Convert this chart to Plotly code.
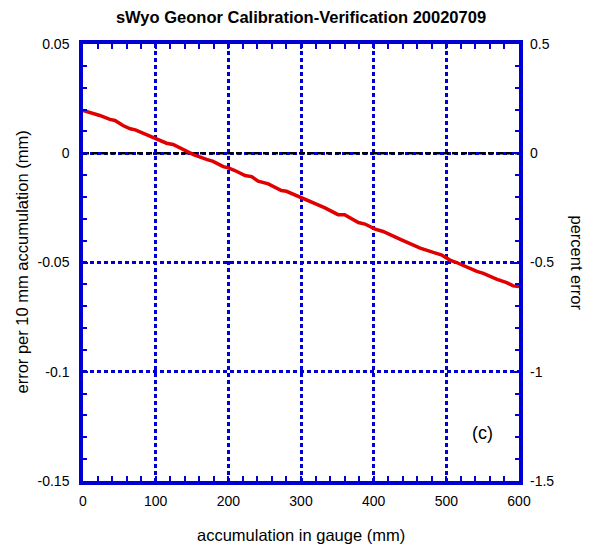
import plotly.graph_objects as go

# ---- data ----
accum_mm = [0, 14, 23, 37, 44, 55, 65, 72, 88, 99, 115, 124, 138, 152, 170, 179,
            193, 200, 209, 223, 232, 241, 255, 273, 280, 301, 315, 333, 351, 360,
            379, 388, 402, 413, 436, 450, 464, 482, 493, 505, 514, 542, 551, 569,
            583, 592, 600]
err_mm = [0.0196, 0.0183, 0.0173, 0.0155, 0.0150, 0.0127, 0.0112, 0.0107, 0.0084,
          0.0066, 0.0046, 0.0040, 0.0016, -0.0006, -0.0028, -0.0037, -0.0061,
          -0.0067, -0.0079, -0.0102, -0.0107, -0.0128, -0.0140, -0.0171, -0.0174,
          -0.0205, -0.0225, -0.0250, -0.0281, -0.0281, -0.0317, -0.0324, -0.0347,
          -0.0358, -0.0393, -0.0413, -0.0434, -0.0454, -0.0465, -0.0489, -0.0500,
          -0.0541, -0.0550, -0.0576, -0.0592, -0.0607, -0.0610]
# percent error = error per 10 mm / 10 mm * 100
pct_err = [v * 10 for v in err_mm]

x_range = [0, 600]
x_ticks = [0, 100, 200, 300, 400, 500, 600]
x_ticktext = ["0", "100", "200", "300", "400", "500", "600"]
y_ticks = [-0.15, -0.1, -0.05, 0, 0.05]
y_ticktext = ["-0.15", "-0.1", "-0.05", "0", "0.05"]
y2_ticks = [-1.5, -1, -0.5, 0, 0.5]
y2_ticktext = ["-1.5", "-1", "-0.5", "0", "0.5"]

title = "sWyo Geonor Calibration-Verification 20020709"
x_title = "accumulation in gauge (mm)"
y_title = "error per 10 mm accumulation (mm)"
y2_title = "percent error"
panel = "(c)"

BLUE = "#0000D4"
RED = "#E00000"
FONT = "Liberation Sans, Arial, sans-serif"
TICKFONT = dict(family=FONT, size=14, color="black")
LABELFONT = dict(family=FONT, size=16.5, color="black")

fig = go.Figure()
# zero reference line (black dashed), drawn above the grid but below the data
fig.add_trace(go.Scatter(x=x_range, y=[0, 0], mode="lines",
                         line=dict(color="black", width=2.5, dash="6px,3px"),
                         hoverinfo="skip"))
fig.add_trace(go.Scatter(x=accum_mm, y=err_mm, mode="lines",
                         line=dict(color=RED, width=3.5), hoverinfo="skip"))
fig.add_trace(go.Scatter(x=accum_mm, y=pct_err, mode="lines", yaxis="y2",
                         line=dict(color="rgba(0,0,0,0)", width=0), hoverinfo="skip"))

common = dict(ticks="inside", ticklen=5, tickwidth=2, tickcolor=BLUE,
              showline=True, linecolor=BLUE, linewidth=3.5,
              zeroline=False, tickfont=TICKFONT, fixedrange=True)

fig.update_layout(
    width=597, height=550,
    margin=dict(l=83, r=78, t=44, b=69),
    plot_bgcolor="white", paper_bgcolor="white",
    showlegend=False,
    font=dict(family=FONT, color="black"),
    title=dict(text="<b>" + title + "</b>", x=0.5, xref="paper",
               y=1 - 17 / 550, yref="container", yanchor="middle",
               font=dict(family=FONT, size=16.5, color="black")),
    xaxis=dict(range=x_range, tickvals=x_ticks, ticktext=x_ticktext,
               mirror="allticks", showgrid=True, gridcolor=BLUE, griddash="4px,3px",
               gridwidth=3, ticklabelstandoff=4,
               minor=dict(ticks="inside", dtick=20, ticklen=4, tickwidth=2,
                          tickcolor=BLUE, showgrid=False),
               **common),
    yaxis=dict(range=[-0.15, 0.05], tickvals=y_ticks, ticktext=y_ticktext,
               mirror="allticks", showgrid=True, gridcolor=BLUE, griddash="4px,3px",
               gridwidth=3, ticklabelstandoff=7,
               minor=dict(ticks="inside", dtick=0.01, tick0=0, ticklen=4, tickwidth=2,
                          tickcolor=BLUE, showgrid=False),
               **common),
    yaxis2=dict(range=[-1.5, 0.5], tickvals=y2_ticks, ticktext=y2_ticktext,
                overlaying="y", side="right", showgrid=False,
                ticks="inside", ticklen=5, tickwidth=2, tickcolor=BLUE,
                showline=False, zeroline=False, ticklabelstandoff=10,
                tickfont=TICKFONT,
                minor=dict(ticks="inside", dtick=0.1, tick0=0, ticklen=4, tickwidth=2,
                           tickcolor=BLUE, showgrid=False),
                fixedrange=True),
)

fig.add_annotation(text=x_title, xref="paper", x=0.5, yref="paper", y=-(535 - 481) / 437,
                   yanchor="middle", showarrow=False, font=LABELFONT)
fig.add_annotation(text=y_title, xref="paper", x=-(83 - 21) / 436, xanchor="center",
                   yref="paper", y=0.5, textangle=-90, showarrow=False, font=LABELFONT)
fig.add_annotation(text=y2_title, xref="paper", x=1 + (577 - 519) / 436, xanchor="center",
                   yref="paper", y=0.5, textangle=90, showarrow=False, font=LABELFONT)
fig.add_annotation(text=panel, x=550, y=-0.128, xref="x", yref="y", showarrow=False,
                   font=dict(family=FONT, size=18, color="black"))

fig.write_html("out.html")
